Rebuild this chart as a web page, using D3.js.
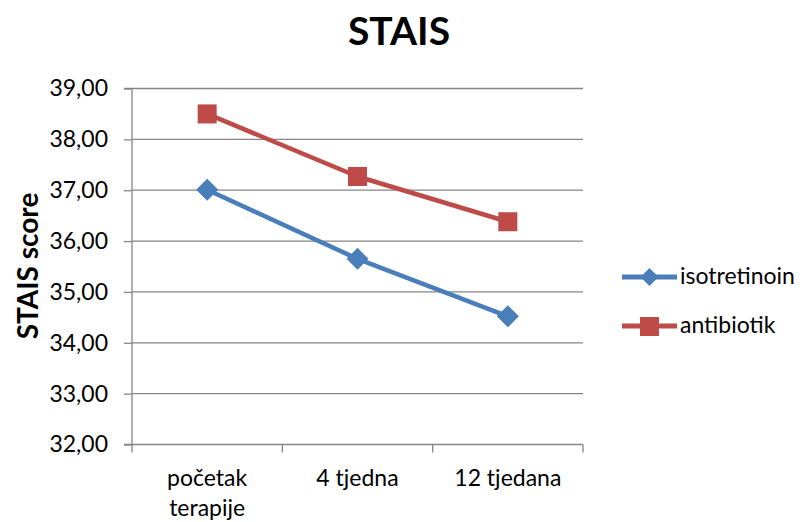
<!DOCTYPE html>
<html><head><meta charset="utf-8">
<script src="https://cdn.jsdelivr.net/npm/d3@7"></script>
<style>body{margin:0;background:#fff}svg{display:block}text{font-family:Lato,"Open Sans",sans-serif;fill:#000}</style>
</head><body><svg id="c" width="803" height="522"></svg>
<script>
const categories = ["početak terapije", "4 tjedna", "12 tjedana"];
const isotretinoin = [37.01, 35.65, 34.52];
const antibiotik = [38.50, 37.27, 36.38];
const yTicks = [32, 33, 34, 35, 36, 37, 38, 39];
const seriesNames = ["isotretinoin", "antibiotik"];
const colors = ["#4a7ebb", "#be4b48"];

const svg = d3.select("#c");
const L = 132, R = 583, T = 88.5, B = 444.5;
const x = d3.scaleBand().domain(categories).range([L, R]);
const y = d3.scaleLinear().domain([32, 39]).range([B, T]);
const grid = "#868686";
const FS = "23px";

// gridlines
svg.append("g").selectAll("line").data(yTicks.slice(1)).join("line")
  .attr("x1", L).attr("x2", R).attr("y1", d => y(d)).attr("y2", d => y(d))
  .attr("stroke", grid).attr("stroke-width", 1.3);

// y axis
const ya = svg.append("g").attr("transform", `translate(${L},0)`)
  .call(d3.axisLeft(y).tickValues(yTicks).tickSize(8).tickPadding(16)
    .tickFormat(d => d3.format(".2f")(d).replace(".", ",")));
ya.select(".domain").attr("stroke", grid).attr("stroke-width", 1.3).attr("d", `M-8,${T}H0V${B}H-8`);
ya.selectAll(".tick line").attr("stroke", grid).attr("stroke-width", 1.3);
ya.selectAll("text").style("font-size", FS).style("font-family", "Lato, 'Open Sans', sans-serif").attr("fill", "#000");

// x axis
const xa = svg.append("g").attr("transform", `translate(0,${B})`)
  .call(d3.axisBottom(x).tickSize(0).tickFormat(""));
xa.select(".domain").attr("stroke", grid).attr("stroke-width", 1.3).attr("d", `M${L},0H${R}`);
xa.selectAll(".tick").remove();
const bounds = [L, ...categories.map(c => x(c) + x.bandwidth())];
svg.append("g").selectAll("line").data(bounds).join("line")
  .attr("x1", d => d).attr("x2", d => d).attr("y1", B).attr("y2", B + 8)
  .attr("stroke", grid).attr("stroke-width", 1.3);

const labelLines = {"početak terapije": ["početak", "terapije"]};
categories.forEach(c => {
  const lines = labelLines[c] || [c];
  const t = svg.append("text").attr("x", x(c) + x.bandwidth() / 2).attr("y", 486)
    .attr("text-anchor", "middle").style("font-size", FS);
  lines.forEach((ln, i) => t.append("tspan").attr("x", x(c) + x.bandwidth() / 2).attr("dy", i ? 30 : 0).text(ln));
});

// series
const line = d3.line().x((d, i) => x(categories[i]) + x.bandwidth() / 2).y(d => y(d));
const data = [isotretinoin, antibiotik];
data.forEach((vals, si) => {
  svg.append("path").attr("d", line(vals)).attr("fill", "none")
    .attr("stroke", colors[si]).attr("stroke-width", 4.5).attr("stroke-linejoin", "round");
  vals.forEach((v, i) => {
    const cx = x(categories[i]) + x.bandwidth() / 2, cy = y(v);
    if (si === 0) {
      svg.append("path").attr("d", `M${cx},${cy - 11}L${cx + 11},${cy}L${cx},${cy + 11}L${cx - 11},${cy}Z`).attr("fill", colors[si]);
    } else {
      svg.append("rect").attr("x", cx - 9.5).attr("y", cy - 9.5).attr("width", 19).attr("height", 19).attr("fill", colors[si]);
    }
  });
});

// legend
seriesNames.forEach((n, i) => {
  const ly = 277 + i * 49;
  svg.append("line").attr("x1", 622).attr("x2", 677).attr("y1", ly).attr("y2", ly)
    .attr("stroke", colors[i]).attr("stroke-width", 5);
  if (i === 0) svg.append("path").attr("d", `M649.5,${ly - 9}L658.5,${ly}L649.5,${ly + 9}L640.5,${ly}Z`).attr("fill", colors[i]);
  else svg.append("rect").attr("x", 640).attr("y", ly - 9).attr("width", 19).attr("height", 19).attr("fill", colors[i]);
  svg.append("text").attr("x", 680).attr("y", ly + 7).style("font-size", FS).text(n);
});

// titles
svg.append("text").attr("x", 399).attr("y", 45).attr("text-anchor", "middle")
  .style("font-size", "39px").style("font-weight", "bold").text("STAIS");
svg.append("text").attr("transform", "translate(38,266) rotate(-90)").attr("text-anchor", "middle")
  .style("font-size", "28px").style("font-weight", "bold").text("STAIS score");
</script></body></html>
